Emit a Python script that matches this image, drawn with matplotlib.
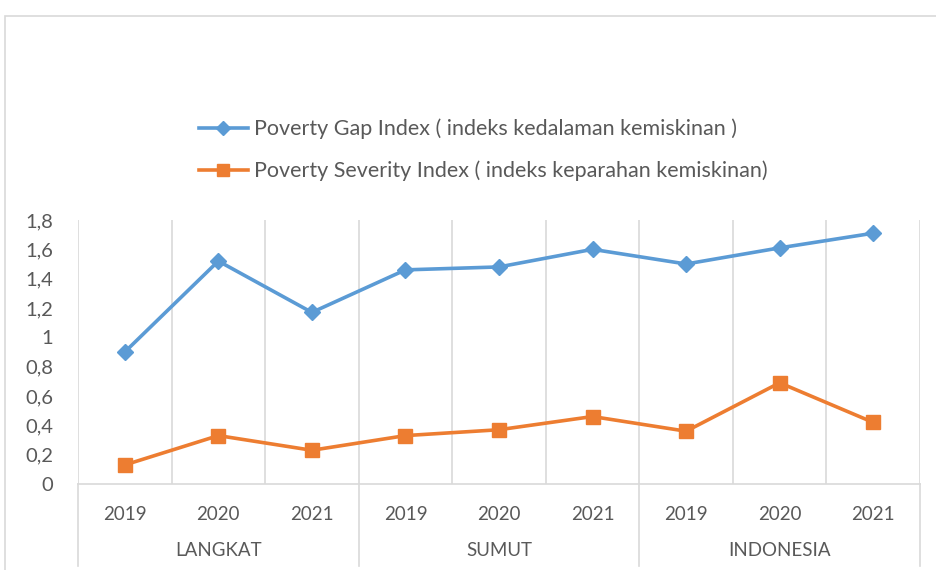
import numpy as np
import matplotlib
matplotlib.use('Agg')
import matplotlib.pyplot as plt
from matplotlib.patches import Rectangle
from matplotlib.ticker import FuncFormatter, FixedLocator
import matplotlib.transforms as mtrans

plt.rc('font', family=['Lato', 'DejaVu Sans'])

groups = ['LANGKAT', 'SUMUT', 'INDONESIA']
years = ['2019', '2020', '2021']
gap_index = [0.90, 1.52, 1.17, 1.46, 1.48, 1.60, 1.50, 1.61, 1.71]
severity_index = [0.13, 0.33, 0.23, 0.33, 0.37, 0.46, 0.36, 0.69, 0.42]
y_ticks = [0, 0.2, 0.4, 0.6, 0.8, 1, 1.2, 1.4, 1.6, 1.8]

BLUE = '#5b9bd5'
ORANGE = '#ed7d31'
GRID = '#d9d9d9'
TXT = '#595959'

fig = plt.figure(figsize=(9.36, 5.70), dpi=100)
# chart frame
fig.patches.append(Rectangle((5 / 936, -0.1), 1.0, 1 - 16 / 570 + 0.1,
                             transform=fig.transFigure, fill=False,
                             edgecolor=GRID, lw=1.2))

ax = fig.add_axes([78 / 936, 86 / 570, 842 / 936, 264 / 570])
x = np.arange(len(gap_index))
l1, = ax.plot(x, gap_index, color=BLUE, lw=2.6, marker='D', ms=8.5,
              label='Poverty Gap Index ( indeks kedalaman kemiskinan )')
l2, = ax.plot(x, severity_index, color=ORANGE, lw=2.6, marker='s', ms=10,
              label='Poverty Severity Index ( indeks keparahan kemiskinan)')

ax.set_xlim(-0.5, len(x) - 0.5)
ax.set_ylim(0, 1.8)
for s in ['top', 'right', 'left']:
    ax.spines[s].set_visible(False)
ax.spines['bottom'].set_color(GRID)
ax.spines['bottom'].set_linewidth(1.2)

# vertical grid between categories
ax.xaxis.set_minor_locator(FixedLocator(np.arange(-0.5, len(x), 1.0)))
ax.grid(True, which='minor', axis='x', color=GRID, lw=1.2)
ax.set_axisbelow(True)
for ln in [l1, l2]:
    ln.set_zorder(3)

ax.set_xticks(x)
ax.set_xticklabels(years * len(groups))
ax.tick_params(axis='x', which='both', length=0, pad=16, labelsize=13.5,
               labelcolor=TXT)
ax.set_yticks(y_ticks)
ax.yaxis.set_major_formatter(FuncFormatter(lambda v, p: f'{v:g}'.replace('.', ',')))
ax.tick_params(axis='y', length=0, pad=18, labelsize=14.5, labelcolor=TXT)

# group labels and separators below the axis
trans = mtrans.blended_transform_factory(ax.transData, ax.transAxes)
for k, g in enumerate(groups):
    ax.text(3 * k + 1, -0.25, g, transform=trans, ha='center', va='center',
            fontsize=13.5, color=TXT)
for b in np.arange(-0.5, len(x), 3.0):
    ax.plot([b, b], [0, -0.31], transform=trans, color=GRID, lw=1.2,
            clip_on=False)

fig.legend(handles=[l1, l2], loc='upper left',
           bbox_to_anchor=(190 / 936, 1 - 110 / 570), frameon=False,
           fontsize=15.5, labelcolor=TXT, handlelength=2.3, markerscale=0.8,
           handletextpad=0.25, labelspacing=1.0, borderaxespad=0)

fig.savefig('out.png', dpi=100)
